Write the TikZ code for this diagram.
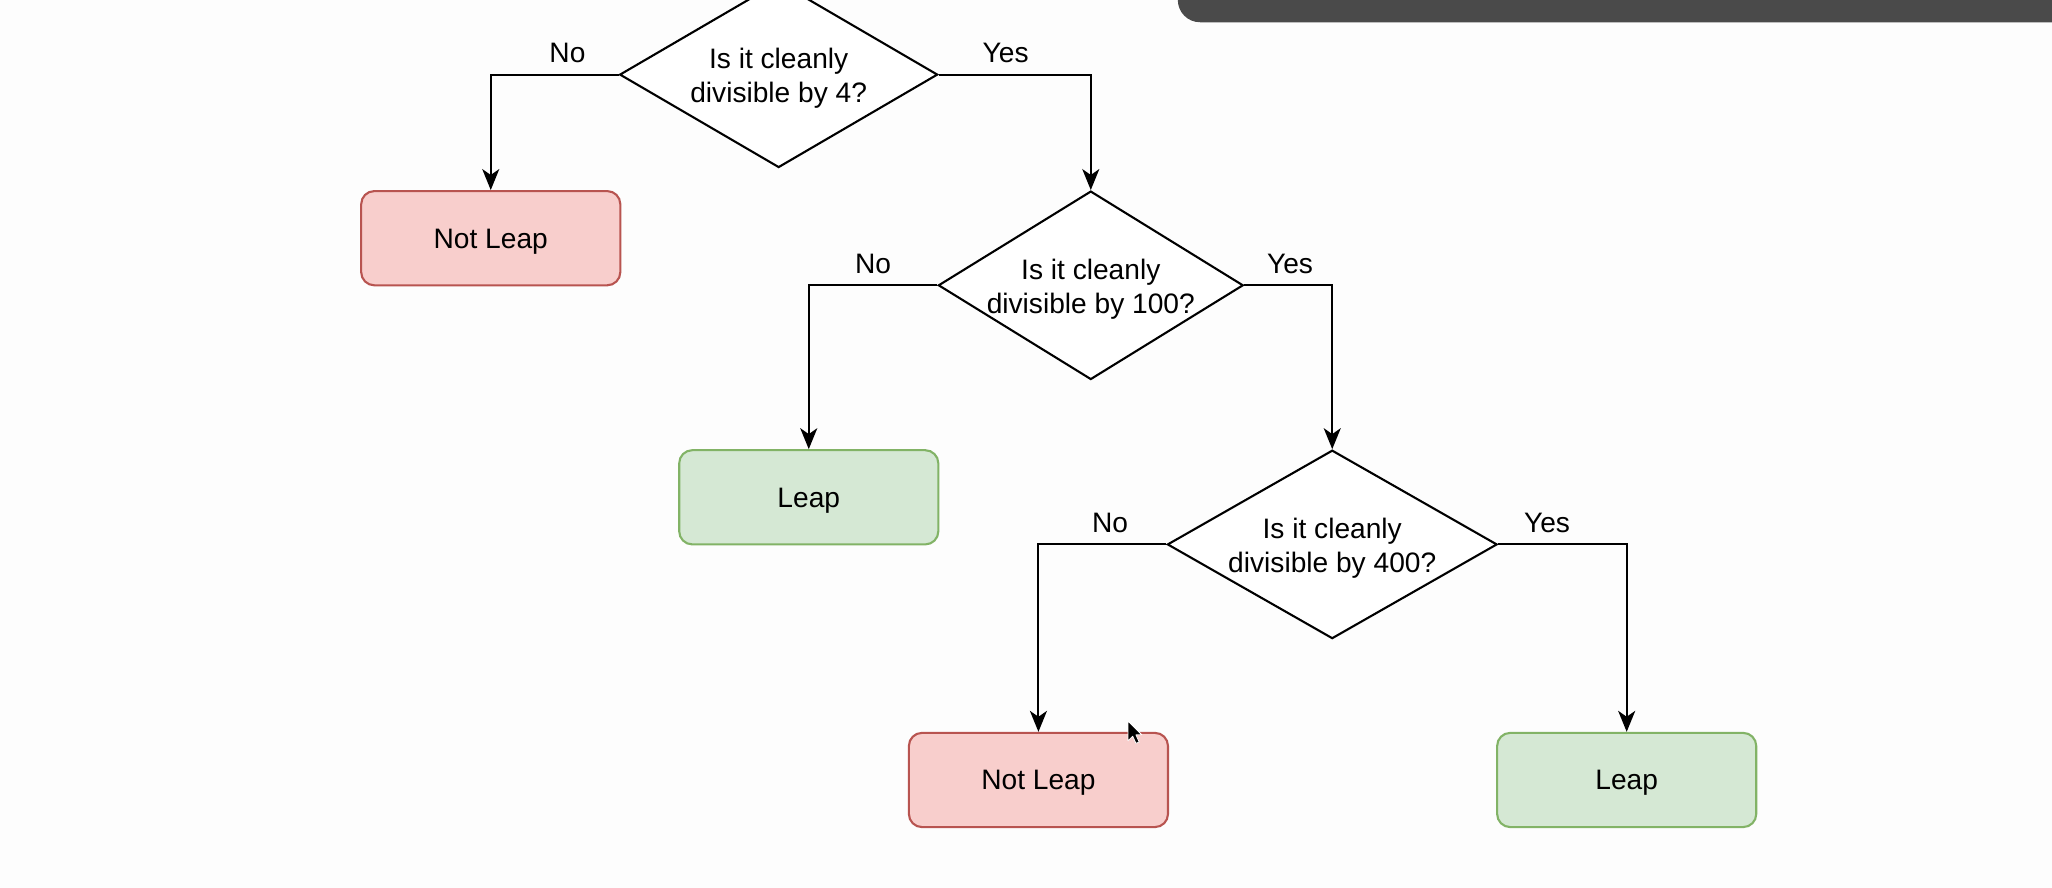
\documentclass[tikz,border=0pt]{standalone}
\usepackage{fontspec}
\setmainfont{Liberation Sans}
\usetikzlibrary{shapes.geometric,arrows.meta}
\definecolor{redfill}{HTML}{F8CECC}
\definecolor{redline}{HTML}{B85450}
\definecolor{greenfill}{HTML}{D5E8D4}
\definecolor{greenline}{HTML}{82B366}
\definecolor{barcol}{HTML}{4A4A4A}
\definecolor{bgcol}{HTML}{FDFDFD}
\tikzset{
  txt/.style={font=\fontsize{21.5}{26}\selectfont},
  decision/.style={shape=diamond, draw=black, line width=1.6pt, fill=white, inner sep=0pt},
  qtext/.style={txt, align=center, inner sep=0pt, yshift=-3pt},
  outcome/.style={txt, line width=1.6pt, rounded corners=10pt, text height=15pt, text depth=0pt,
                  minimum width=198pt, minimum height=72pt},
  notleap/.style={outcome, draw=redline, fill=redfill},
  leap/.style={outcome, draw=greenline, fill=greenfill},
  arr/.style={draw=black, line width=1.6pt, -{Stealth[length=16pt,width=13pt,inset=4.5pt]}},
  lbl/.style={txt, above=8pt, inner sep=0pt},
}
\begin{document}
\begin{tikzpicture}[x=1pt,y=-1pt]
\fill[bgcol] (0,0) rectangle (1568,678.5);
\useasboundingbox (0,0) rectangle (1568,678.5);
\begin{scope}
\clip (0,0) rectangle (1568,678.5);
% top bar
\fill[barcol, rounded corners=17pt] (900,-40) rectangle (1620,17);

% decisions
\node[decision, minimum width=243pt, minimum height=142pt] (d1) at (595,57) {};
\node[qtext] (t1) at (d1.center) {Is it cleanly\\divisible by 4?};
\node[decision, minimum width=233pt, minimum height=144pt] (d2) at (833.5,218) {};
\node[qtext] (t2) at (d2.center) {Is it cleanly\\divisible by 100?};
\node[decision, minimum width=252pt, minimum height=144pt] (d3) at (1018,416) {};
\node[qtext] (t3) at (d3.center) {Is it cleanly\\divisible by 400?};

% outcomes
\node[notleap] (n1) at (375,182) {Not Leap};
\node[leap] (l1) at (618,380) {Leap};
\node[notleap] (n2) at (793.5,596) {Not Leap};
\node[leap] (l2) at (1243,596) {Leap};

% connectors
\draw[arr] (d1.west) -| node[lbl, pos=0.2] {No} (n1.north);
\draw[arr] (d1.east) -| node[lbl, pos=0.22] {Yes} (d2.north);
\draw[arr] (d2.west) -| node[lbl, pos=0.25] {No} (l1.north);
\draw[arr] (d2.east) -| node[lbl, pos=0.26] {Yes} (d3.north);
\draw[arr] (d3.west) -| node[lbl, pos=0.22] {No} (n2.north);
\draw[arr] (d3.east) -| node[lbl, pos=0.19] {Yes} (l2.north);

% mouse cursor
\filldraw[fill=black, draw=white, line width=0.6pt, line join=round]
  (862,551) -- (862,566) -- (865.5,562.5) -- (868,568) -- (870.5,567) -- (868,561.5) -- (872.5,561.5) -- cycle;
\end{scope}
\end{tikzpicture}
\end{document}
